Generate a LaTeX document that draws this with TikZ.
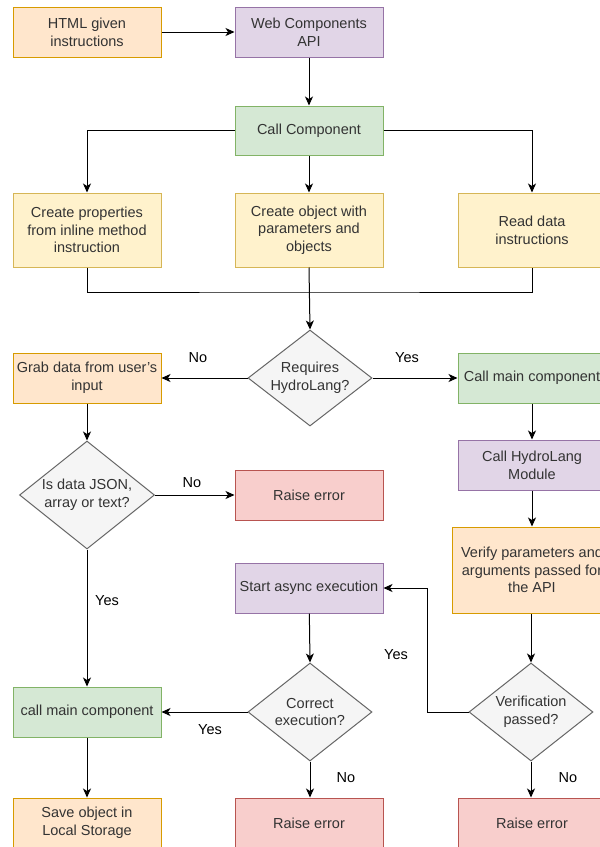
\documentclass[tikz,border=0pt]{standalone}
\usepackage{fontspec}
\setmainfont{Liberation Sans}
\usetikzlibrary{shapes.geometric,arrows.meta}
\definecolor{orF}{HTML}{FFE6CC}\definecolor{orD}{HTML}{D79B00}
\definecolor{puF}{HTML}{E1D5E7}\definecolor{puD}{HTML}{9673A6}
\definecolor{grF}{HTML}{D5E8D4}\definecolor{grD}{HTML}{82B366}
\definecolor{yeF}{HTML}{FFF2CC}\definecolor{yeD}{HTML}{D6B656}
\definecolor{reF}{HTML}{F8CECC}\definecolor{reD}{HTML}{B85450}
\definecolor{gyF}{HTML}{F5F5F5}\definecolor{gyD}{HTML}{666666}
\definecolor{gyT}{HTML}{333333}
\tikzset{
  box/.style={rectangle, draw, line width=1pt, minimum width=148pt, minimum height=50pt, inner sep=0pt, align=center, font=\fontsize{14.5}{17.7}\selectfont, text=gyT},
  orbox/.style={box, fill=orF, draw=orD},
  pubox/.style={box, fill=puF, draw=puD},
  grbox/.style={box, fill=grF, draw=grD},
  yebox/.style={box, fill=yeF, draw=yeD, minimum height=74pt},
  rebox/.style={box, fill=reF, draw=reD},
  decide/.style={diamond, draw=gyD, fill=gyF, line width=1pt, inner sep=0pt, align=center, font=\fontsize{14.5}{17.7}\selectfont, text=gyT},
  conn/.style={line width=1pt, draw=black},
  arr/.style={conn, -{Stealth[length=9pt,width=8pt,inset=2.5pt]}},
  lbl/.style={font=\fontsize{14.5}{17.7}\selectfont, text=black, inner sep=0pt}
}
\begin{document}
\begin{tikzpicture}[x=1pt,y=-1pt]
\useasboundingbox (0,0) rectangle (600,847);
\clip (0,0) rectangle (600,847);
\fill[white] (0,0) rectangle (600,847);
% nodes
\node[orbox] (html) at (87,32) {HTML given\\instructions};
\node[pubox] (api) at (309,32) {Web Components\\API};
\node[grbox, minimum height=49pt] (call) at (309,130.5) {Call Component};
\node[yebox] (cp) at (87,230) {Create properties\\from inline method\\instruction};
\node[yebox] (co) at (309,230) {Create object with\\parameters and\\objects};
\node[yebox] (rd) at (532,230) {Read data\\instructions};
\node[decide, minimum width=124pt, minimum height=96pt, aspect=1.29] (req) at (310,378) {Requires\\HydroLang?};
\node[orbox] (grab) at (87,378) {Grab data from user's\\input};
\node[grbox] (cmr) at (532,378) {Call main component};
\node[decide, minimum width=135pt, minimum height=108pt, aspect=1.25] (json) at (87,495) {Is data JSON,\\array or text?};
\node[rebox] (err1) at (309,495) {Raise error};
\node[pubox] (hlm) at (532,465) {Call HydroLang\\Module};
\node[orbox, minimum width=160pt, minimum height=86pt] (ver) at (532,570) {Verify parameters and\\arguments passed for\\the API};
\node[pubox] (async) at (309,588) {Start async execution};
\node[decide, minimum width=124pt, minimum height=98pt, aspect=1.27] (corr) at (310,712) {Correct\\execution?};
\node[decide, minimum width=124pt, minimum height=98pt, aspect=1.27] (vp) at (531,712) {Verification\\passed?};
\node[grbox] (cml) at (87,712) {call main component};
\node[orbox] (save) at (87,823) {Save object in\\Local Storage};
\node[rebox] (err2) at (309,823) {Raise error};
\node[rebox] (err3) at (532,823) {Raise error};
\coordinate (j) at (309,292);
% connectors
\draw[arr] (html) -- (api);
\draw[arr] (api) -- (call);
\draw[arr] (call.west) -| (cp.north);
\draw[arr] (call.east) -| (rd.north);
\draw[arr] (call) -- (co);
\draw[conn] (cp.south) |- (j) -| (rd.south);
\draw[arr] (co.south) -- (req.north);
\draw[arr] (req.west) -- (grab.east);
\draw[arr] (req.east) -- (cmr.west);
\draw[arr] (grab) -- (json.north);
\draw[arr] (json.east) -- (err1.west);
\draw[arr] (json.south) -- (cml.north);
\draw[arr] (cmr) -- (hlm);
\draw[arr] (hlm) -- (ver);
\draw[arr] (ver.south -| vp.north) -- (vp.north);
\draw[arr] (vp.west) -- ++(-41,0) |- (async.east);
\draw[arr] (async) -- (corr.north);
\draw[arr] (corr.west) -- (cml.east);
\draw[arr] (corr.south) -- (err2.north -| corr.south);
\draw[arr] (vp.south) -- (err3.north -| vp.south);
\draw[arr] (cml) -- (save);
% labels
\node[lbl] (l1) at (198,358) {No};
\node[lbl] (l2) at (407,358) {Yes};
\node[lbl] (l3) at (192,483) {No};
\node[lbl] (l4) at (107,601) {Yes};
\node[lbl] (l5) at (396,655) {Yes};
\node[lbl] (l6) at (210,730) {Yes};
\node[lbl] (l7) at (346,778) {No};
\node[lbl] (l8) at (568,778) {No};
\end{tikzpicture}
\end{document}
